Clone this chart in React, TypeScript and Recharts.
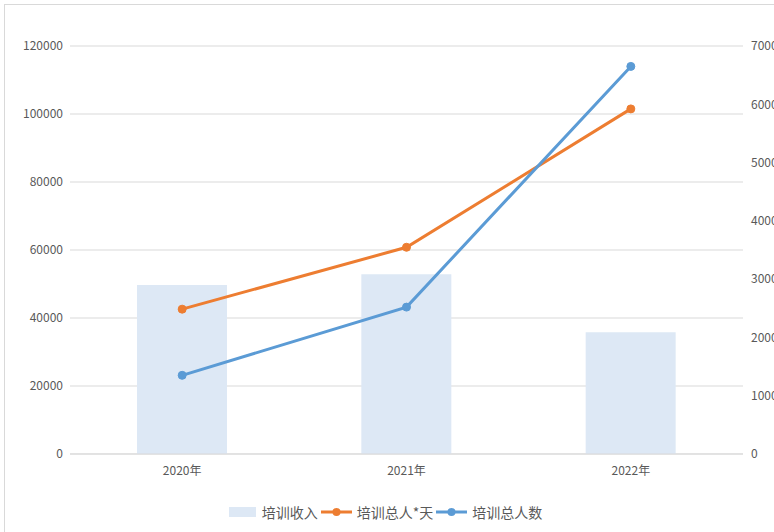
import { Bar, CartesianGrid, ComposedChart, Legend, Line, XAxis, YAxis } from "recharts";

const years = ["2020年", "2021年", "2022年"];
const income = [49700, 52900, 35800];
const personDays = [42600, 60800, 101500];
const persons = [13500, 25200, 66500];
const leftTicks = [0, 20000, 40000, 60000, 80000, 100000, 120000];
const rightTicks = [0, 10000, 20000, 30000, 40000, 50000, 60000, 70000];
const seriesNames = ["培训收入", "培训总人*天", "培训总人数"];

const data = years.map((year, i) => ({
  year,
  income: income[i],
  personDays: personDays[i],
  persons: persons[i],
}));

const font = '"Noto Sans CJK SC", "Noto Sans", sans-serif';
const tick = { fontSize: 12, fill: "#595959", fontFamily: font };

function LegendContent({ payload }: any) {
  const items = [...(payload || [])].sort((a: any, b: any) => seriesNames.indexOf(a.value) - seriesNames.indexOf(b.value));
  return (
    <div style={{ height: 30, display: "flex", justifyContent: "center", alignItems: "center", fontFamily: font, fontSize: 14, color: "#595959" }}>
      {items.map((p: any) => (
        <div key={p.value} style={{ display: "flex", alignItems: "center", marginRight: 3 }}>
          {p.type === "rect" ? (
            <div style={{ width: 27, height: 10, background: p.color, marginRight: 6 }} />
          ) : (
            <svg width={31} height={10} style={{ marginRight: 5 }}>
              <line x1={0} y1={5} x2={31} y2={5} stroke={p.color} strokeWidth={3} />
              <circle cx={15.5} cy={5} r={4} fill={p.color} />
            </svg>
          )}
          <span>{p.value}</span>
        </div>
      ))}
    </div>
  );
}

export default function App() {
  return (
    <div style={{ position: "absolute", left: 0, top: 0, width: 774, height: 532, overflow: "hidden", background: "#fff" }}>
      <div style={{ position: "absolute", left: 4, top: 4, width: 820, height: 600, border: "1px solid #d9d9d9" }} />
      <ComposedChart width={774} height={532} data={data} margin={{ top: 46, right: 0, left: 0, bottom: 18 }}>
        <CartesianGrid yAxisId="left" vertical={false} stroke="#d9d9d9" strokeWidth={1} />
        <XAxis dataKey="year" axisLine={{ stroke: "#d9d9d9" }} tickLine={false} tick={tick} tickMargin={6} height={30} />
        <YAxis yAxisId="left" domain={[0, 120000]} ticks={leftTicks} axisLine={false} tickLine={false} tick={tick} width={70} tickMargin={1} interval={0} />
        <YAxis yAxisId="right" orientation="right" domain={[0, 70000]} ticks={rightTicks} axisLine={false} tickLine={false} tick={{ ...tick, textAnchor: "start" }} width={31} tickMargin={2} interval={0} />
        <Legend verticalAlign="bottom" wrapperStyle={{ bottom: 5 }} content={<LegendContent />} />
        <Bar yAxisId="left" dataKey="income" name="培训收入" fill="#dde8f5" barSize={90} legendType="rect" isAnimationActive={false} />
        <Line yAxisId="left" dataKey="personDays" name="培训总人*天" stroke="#ed7d31" strokeWidth={3} dot={{ r: 4, fill: "#ed7d31", stroke: "#ed7d31", strokeWidth: 1 }} legendType="line" isAnimationActive={false} />
        <Line yAxisId="right" dataKey="persons" name="培训总人数" stroke="#5b9bd5" strokeWidth={3} dot={{ r: 4, fill: "#5b9bd5", stroke: "#5b9bd5", strokeWidth: 1 }} legendType="line" isAnimationActive={false} />
      </ComposedChart>
    </div>
  );
}
